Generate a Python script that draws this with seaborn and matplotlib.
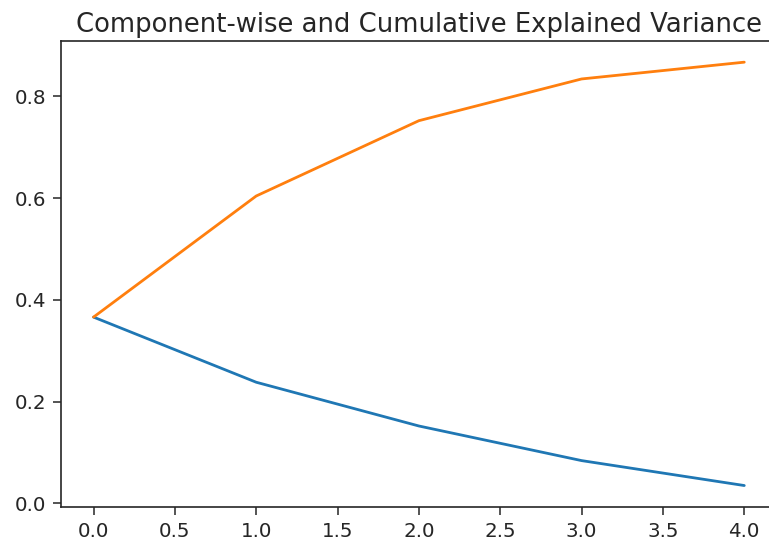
import numpy as np
import pandas as pd
import matplotlib
matplotlib.use("Agg")
import matplotlib.pyplot as plt
import seaborn as sns

components = [0, 1, 2, 3, 4]
explained = [0.366, 0.238, 0.152, 0.084, 0.035]
cumulative = [0.366, 0.604, 0.752, 0.834, 0.867]

sns.set_style("ticks")
plt.rcParams['font.family'] = ['DejaVu Sans']

df = pd.DataFrame({'component': components,
                   'explained': explained,
                   'cumulative': cumulative})

fig = plt.figure(figsize=(7.69, 5.44), dpi=100)
ax = fig.add_axes([61 / 769, 1 - 506.7 / 544, 715.8 / 769, 465.7 / 544])

sns.lineplot(x='component', y='explained', data=df, ax=ax, color='#1f77b4', linewidth=2.0)
sns.lineplot(x='component', y='cumulative', data=df, ax=ax, color='#ff7f0e', linewidth=2.0)

ax.set_xticks([0.0, 0.5, 1.0, 1.5, 2.0, 2.5, 3.0, 3.5, 4.0])
ax.set_yticks([0.0, 0.2, 0.4, 0.6, 0.8])
ax.set_xlabel('')
ax.set_ylabel('')
ax.margins(x=0.05, y=0.05)
ax.tick_params(labelsize=14.3, length=5.6, width=1.1, pad=5.2, colors='#262626')
for s in ax.spines.values():
    s.set_linewidth(1.2)
    s.set_color('#262626')
    s.set_visible(True)
ax.set_title('Component-wise and Cumulative Explained Variance', fontsize=18.6, pad=6.5, color='#262626')

fig.savefig('out.png', dpi=100)
